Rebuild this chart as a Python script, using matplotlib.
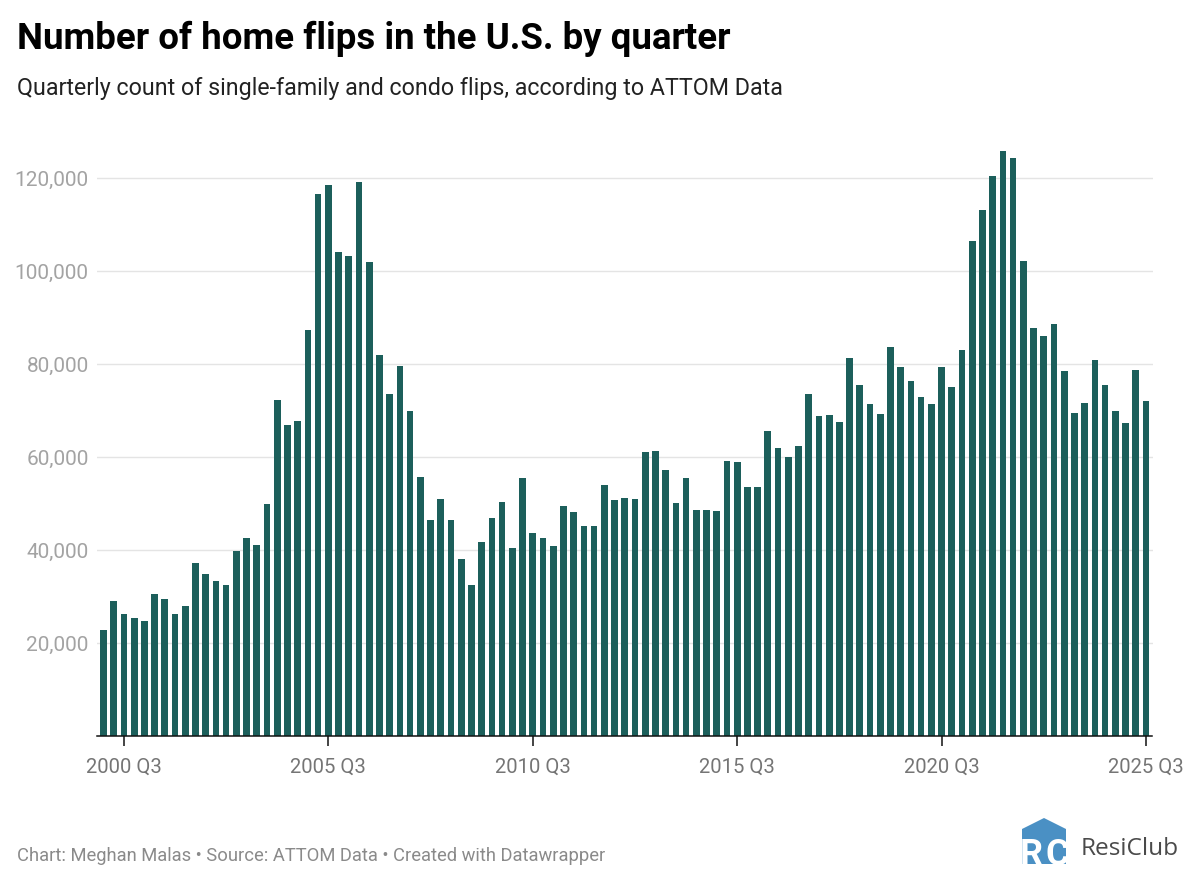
import matplotlib
matplotlib.use("Agg")
import matplotlib.pyplot as plt
from matplotlib.patches import Polygon

plt.rcParams['font.family'] = ['Roboto', 'DejaVu Sans']

title = "Number of home flips in the U.S. by quarter"
subtitle = "Quarterly count of single-family and condo flips, according to ATTOM Data"
footer = "Chart: Meghan Malas • Source: ATTOM Data • Created with Datawrapper"
flips = [
    22700, 29000, 26300, 25400, 24800, 30500, 29400, 26300, 28000, 37200, 34900, 33300,
    32400, 39700, 42500, 41000, 49800, 72200, 66800, 67700, 87400, 116600, 118500, 104000,
    103200, 119100, 101900, 81900, 73500, 79500, 70000, 55700, 46400, 51000, 46500, 38000,
    32400, 41700, 46900, 50400, 40400, 55500, 43600, 42500, 40900, 49400, 48200, 45100,
    45100, 54000, 50800, 51100, 50900, 61000, 61200, 57100, 50100, 55500, 48600, 48600,
    48300, 59200, 59000, 53500, 53500, 65600, 62000, 60000, 62300, 73600, 68800, 69100,
    67500, 81200, 75500, 71300, 69300, 83700, 79400, 76300, 72900, 71300, 79400, 75000,
    83100, 106400, 113200, 120500, 125700, 124400, 102200, 87700, 86000, 88700, 78400, 69400,
    71600, 80800, 75400, 69900, 67300, 78700, 72100,
]
quarters = [f"{2000 + i // 4} Q{i % 4 + 1}" for i in range(len(flips))]
x_labels = ["2000 Q3", "2005 Q3", "2010 Q3", "2015 Q3", "2020 Q3", "2025 Q3"]
y_ticks = [20000, 40000, 60000, 80000, 100000, 120000]

W, H = 1200, 883
TEAL = "#1c5f5b"
fig = plt.figure(figsize=(W / 100, H / 100), dpi=100, facecolor="white")

# plot area in pixels
left, right, top, bottom = 97, 1153, 140, 736
ax = fig.add_axes([left / W, 1 - bottom / H, (right - left) / W, (bottom - top) / H])
step = (1146 - 103.5) / 102
ax.set_xlim(-(103.5 - left) / step, (right - 103.5) / step)
ax.set_ylim(0, (bottom - top) / (558 / 120000))

xs = list(range(len(flips)))
ax.bar(xs, flips, width=0.655, color=TEAL, zorder=3, linewidth=0)
for s in ("top", "right", "left"):
    ax.spines[s].set_visible(False)
ax.spines["bottom"].set_color("#111111")
ax.spines["bottom"].set_linewidth(1.1)
ax.spines["bottom"].set_zorder(5)
ax.spines["bottom"].set_bounds(ax.get_xlim()[0], (1152 - 103.5) / step)

ax.set_yticks(y_ticks)
ax.set_yticklabels([f"{v:,}" for v in y_ticks], fontsize=15.0, color="#a3a3a3")
ax.tick_params(axis="y", length=0, pad=6)
ax.yaxis.grid(True, color="#e4e4e4", linewidth=1.0, zorder=0)
ax.set_axisbelow(True)

ax.set_xticks([quarters.index(q) for q in x_labels])
ax.set_xticklabels(x_labels, fontsize=14.6, color="#757575")
ax.tick_params(axis="x", length=7, width=1.1, color="#111111", pad=9)

# overlay in pixel coordinates for titles, footer and logo
ov = fig.add_axes([0, 0, 1, 1], facecolor="none")
ov.set_xlim(0, W)
ov.set_ylim(H, 0)
ov.axis("off")
ov.text(17, 39, title, fontsize=26.4, fontweight="bold", color="#000000", va="center", ha="left")
ov.text(17, 89, subtitle, fontsize=16.75, color="#222222", va="center", ha="left")
ov.text(17, 856, footer, fontsize=13.2, color="#8a8a8a", va="center", ha="left")

BLUE = "#4a90c4"
house = Polygon([(1022, 829), (1044, 818), (1066, 829), (1066, 864), (1022, 864)],
                closed=True, facecolor=BLUE, edgecolor="none")
ov.add_patch(house)
for ch, cx in (("R", 1031), ("C", 1057)):
    t = ov.text(cx, 865, ch, fontsize=26, fontweight="bold", color="white", ha="center", va="baseline")
    t.set_clip_path(house)
ov.text(1081, 849, "ResiClub", fontsize=17.6, fontfamily="Open Sans", fontweight="medium", color="#4a4a4a", va="center", ha="left")

fig.savefig("out.png", dpi=100, facecolor="white")
